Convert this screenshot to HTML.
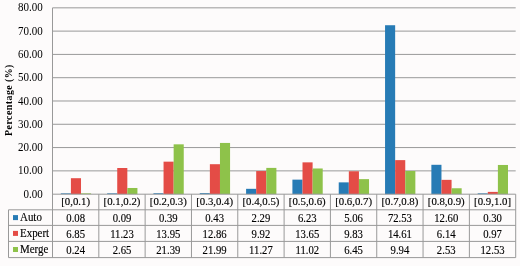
<!DOCTYPE html>
<html><head><meta charset="utf-8"><style>
html,body{margin:0;padding:0;background:#fdfbfb;width:520px;height:266px;overflow:hidden;}
svg{display:block;will-change:transform;}
</style></head><body>
<svg width="520" height="266" viewBox="0 0 520 266">

<line x1="52.5" y1="170.86" x2="515.7" y2="170.86" stroke="#999999" stroke-width="1.0"/>
<line x1="52.5" y1="147.57" x2="515.7" y2="147.57" stroke="#999999" stroke-width="1.0"/>
<line x1="52.5" y1="124.28" x2="515.7" y2="124.28" stroke="#999999" stroke-width="1.0"/>
<line x1="52.5" y1="100.99" x2="515.7" y2="100.99" stroke="#999999" stroke-width="1.0"/>
<line x1="52.5" y1="77.70" x2="515.7" y2="77.70" stroke="#999999" stroke-width="1.0"/>
<line x1="52.5" y1="54.41" x2="515.7" y2="54.41" stroke="#999999" stroke-width="1.0"/>
<line x1="52.5" y1="31.12" x2="515.7" y2="31.12" stroke="#999999" stroke-width="1.0"/>
<line x1="52.5" y1="7.83" x2="515.7" y2="7.83" stroke="#999999" stroke-width="1.0"/>
<rect x="60.81" y="193.35" width="10.10" height="0.80" fill="#277bb5"/>
<rect x="70.91" y="178.20" width="10.10" height="15.95" fill="#e44c46"/>
<rect x="81.01" y="193.35" width="10.10" height="0.80" fill="#8ec24a"/>
<rect x="107.13" y="193.35" width="10.10" height="0.80" fill="#277bb5"/>
<rect x="117.23" y="168.00" width="10.10" height="26.15" fill="#e44c46"/>
<rect x="127.33" y="187.98" width="10.10" height="6.17" fill="#8ec24a"/>
<rect x="153.45" y="193.24" width="10.10" height="0.91" fill="#277bb5"/>
<rect x="163.55" y="161.66" width="10.10" height="32.49" fill="#e44c46"/>
<rect x="173.65" y="144.33" width="10.10" height="49.82" fill="#8ec24a"/>
<rect x="199.77" y="193.15" width="10.10" height="1.00" fill="#277bb5"/>
<rect x="209.87" y="164.20" width="10.10" height="29.95" fill="#e44c46"/>
<rect x="219.97" y="142.94" width="10.10" height="51.21" fill="#8ec24a"/>
<rect x="246.09" y="188.82" width="10.10" height="5.33" fill="#277bb5"/>
<rect x="256.19" y="171.05" width="10.10" height="23.10" fill="#e44c46"/>
<rect x="266.29" y="167.90" width="10.10" height="26.25" fill="#8ec24a"/>
<rect x="292.41" y="179.64" width="10.10" height="14.51" fill="#277bb5"/>
<rect x="302.51" y="162.36" width="10.10" height="31.79" fill="#e44c46"/>
<rect x="312.61" y="168.48" width="10.10" height="25.67" fill="#8ec24a"/>
<rect x="338.73" y="182.37" width="10.10" height="11.78" fill="#277bb5"/>
<rect x="348.83" y="171.26" width="10.10" height="22.89" fill="#e44c46"/>
<rect x="358.93" y="179.13" width="10.10" height="15.02" fill="#8ec24a"/>
<rect x="385.05" y="25.23" width="10.10" height="168.92" fill="#277bb5"/>
<rect x="395.15" y="160.12" width="10.10" height="34.03" fill="#e44c46"/>
<rect x="405.25" y="171.00" width="10.10" height="23.15" fill="#8ec24a"/>
<rect x="431.37" y="164.80" width="10.10" height="29.35" fill="#277bb5"/>
<rect x="441.47" y="179.85" width="10.10" height="14.30" fill="#e44c46"/>
<rect x="451.57" y="188.26" width="10.10" height="5.89" fill="#8ec24a"/>
<rect x="477.69" y="193.35" width="10.10" height="0.80" fill="#277bb5"/>
<rect x="487.79" y="191.89" width="10.10" height="2.26" fill="#e44c46"/>
<rect x="497.89" y="164.97" width="10.10" height="29.18" fill="#8ec24a"/>
<line x1="52.5" y1="194.2" x2="515.7" y2="194.2" stroke="#999999" stroke-width="1.0"/>
<line x1="8.5" y1="209.8" x2="515.7" y2="209.8" stroke="#999999" stroke-width="1.0"/>
<line x1="8.5" y1="225.4" x2="515.7" y2="225.4" stroke="#999999" stroke-width="1.0"/>
<line x1="8.5" y1="241.4" x2="515.7" y2="241.4" stroke="#999999" stroke-width="1.0"/>
<line x1="8.5" y1="257.6" x2="515.7" y2="257.6" stroke="#999999" stroke-width="1.0"/>
<line x1="52.5" y1="7.83" x2="52.5" y2="257.6" stroke="#999999" stroke-width="1.0"/>
<line x1="98.82" y1="194.2" x2="98.82" y2="257.6" stroke="#999999" stroke-width="1.0"/>
<line x1="145.14" y1="194.2" x2="145.14" y2="257.6" stroke="#999999" stroke-width="1.0"/>
<line x1="191.46" y1="194.2" x2="191.46" y2="257.6" stroke="#999999" stroke-width="1.0"/>
<line x1="237.78" y1="194.2" x2="237.78" y2="257.6" stroke="#999999" stroke-width="1.0"/>
<line x1="284.10" y1="194.2" x2="284.10" y2="257.6" stroke="#999999" stroke-width="1.0"/>
<line x1="330.42" y1="194.2" x2="330.42" y2="257.6" stroke="#999999" stroke-width="1.0"/>
<line x1="376.74" y1="194.2" x2="376.74" y2="257.6" stroke="#999999" stroke-width="1.0"/>
<line x1="423.06" y1="194.2" x2="423.06" y2="257.6" stroke="#999999" stroke-width="1.0"/>
<line x1="469.38" y1="194.2" x2="469.38" y2="257.6" stroke="#999999" stroke-width="1.0"/>
<line x1="515.70" y1="194.2" x2="515.70" y2="257.6" stroke="#999999" stroke-width="1.0"/>
<line x1="8.5" y1="209.8" x2="8.5" y2="257.6" stroke="#999999" stroke-width="1.0"/>
<text transform="translate(42.80,197.73) scale(0.86,1)" text-anchor="end" font-size="12.8" font-family="Liberation Serif, serif" fill="#000" >0.00</text>
<text transform="translate(42.80,174.44) scale(0.86,1)" text-anchor="end" font-size="12.8" font-family="Liberation Serif, serif" fill="#000" >10.00</text>
<text transform="translate(42.80,151.15) scale(0.86,1)" text-anchor="end" font-size="12.8" font-family="Liberation Serif, serif" fill="#000" >20.00</text>
<text transform="translate(42.80,127.86) scale(0.86,1)" text-anchor="end" font-size="12.8" font-family="Liberation Serif, serif" fill="#000" >30.00</text>
<text transform="translate(42.80,104.57) scale(0.86,1)" text-anchor="end" font-size="12.8" font-family="Liberation Serif, serif" fill="#000" >40.00</text>
<text transform="translate(42.80,81.28) scale(0.86,1)" text-anchor="end" font-size="12.8" font-family="Liberation Serif, serif" fill="#000" >50.00</text>
<text transform="translate(42.80,57.99) scale(0.86,1)" text-anchor="end" font-size="12.8" font-family="Liberation Serif, serif" fill="#000" >60.00</text>
<text transform="translate(42.80,34.70) scale(0.86,1)" text-anchor="end" font-size="12.8" font-family="Liberation Serif, serif" fill="#000" >70.00</text>
<text transform="translate(42.80,11.41) scale(0.86,1)" text-anchor="end" font-size="12.8" font-family="Liberation Serif, serif" fill="#000" >80.00</text>
<text transform="translate(75.66,205.35) scale(1.0,1)" text-anchor="middle" font-size="10.8" font-family="Liberation Serif, serif" fill="#000" stroke="#000" stroke-width="0.15" >[0,0.1)</text>
<text transform="translate(121.98,205.35) scale(1.0,1)" text-anchor="middle" font-size="10.8" font-family="Liberation Serif, serif" fill="#000" stroke="#000" stroke-width="0.15" >[0.1,0.2)</text>
<text transform="translate(168.30,205.35) scale(1.0,1)" text-anchor="middle" font-size="10.8" font-family="Liberation Serif, serif" fill="#000" stroke="#000" stroke-width="0.15" >[0.2,0.3)</text>
<text transform="translate(214.62,205.35) scale(1.0,1)" text-anchor="middle" font-size="10.8" font-family="Liberation Serif, serif" fill="#000" stroke="#000" stroke-width="0.15" >[0.3,0.4)</text>
<text transform="translate(260.94,205.35) scale(1.0,1)" text-anchor="middle" font-size="10.8" font-family="Liberation Serif, serif" fill="#000" stroke="#000" stroke-width="0.15" >[0.4,0.5)</text>
<text transform="translate(307.26,205.35) scale(1.0,1)" text-anchor="middle" font-size="10.8" font-family="Liberation Serif, serif" fill="#000" stroke="#000" stroke-width="0.15" >[0.5,0.6)</text>
<text transform="translate(353.58,205.35) scale(1.0,1)" text-anchor="middle" font-size="10.8" font-family="Liberation Serif, serif" fill="#000" stroke="#000" stroke-width="0.15" >[0.6,0.7)</text>
<text transform="translate(399.90,205.35) scale(1.0,1)" text-anchor="middle" font-size="10.8" font-family="Liberation Serif, serif" fill="#000" stroke="#000" stroke-width="0.15" >[0.7,0.8)</text>
<text transform="translate(446.22,205.35) scale(1.0,1)" text-anchor="middle" font-size="10.8" font-family="Liberation Serif, serif" fill="#000" stroke="#000" stroke-width="0.15" >[0.8,0.9)</text>
<text transform="translate(492.54,205.35) scale(1.0,1)" text-anchor="middle" font-size="10.8" font-family="Liberation Serif, serif" fill="#000" stroke="#000" stroke-width="0.15" >[0.9,1.0]</text>
<text transform="translate(75.66,221.91) scale(0.87,1)" text-anchor="middle" font-size="12.3" font-family="Liberation Serif, serif" fill="#000" stroke="#000" stroke-width="0.15" >0.08</text>
<text transform="translate(121.98,221.91) scale(0.87,1)" text-anchor="middle" font-size="12.3" font-family="Liberation Serif, serif" fill="#000" stroke="#000" stroke-width="0.15" >0.09</text>
<text transform="translate(168.30,221.91) scale(0.87,1)" text-anchor="middle" font-size="12.3" font-family="Liberation Serif, serif" fill="#000" stroke="#000" stroke-width="0.15" >0.39</text>
<text transform="translate(214.62,221.91) scale(0.87,1)" text-anchor="middle" font-size="12.3" font-family="Liberation Serif, serif" fill="#000" stroke="#000" stroke-width="0.15" >0.43</text>
<text transform="translate(260.94,221.91) scale(0.87,1)" text-anchor="middle" font-size="12.3" font-family="Liberation Serif, serif" fill="#000" stroke="#000" stroke-width="0.15" >2.29</text>
<text transform="translate(307.26,221.91) scale(0.87,1)" text-anchor="middle" font-size="12.3" font-family="Liberation Serif, serif" fill="#000" stroke="#000" stroke-width="0.15" >6.23</text>
<text transform="translate(353.58,221.91) scale(0.87,1)" text-anchor="middle" font-size="12.3" font-family="Liberation Serif, serif" fill="#000" stroke="#000" stroke-width="0.15" >5.06</text>
<text transform="translate(399.90,221.91) scale(0.87,1)" text-anchor="middle" font-size="12.3" font-family="Liberation Serif, serif" fill="#000" stroke="#000" stroke-width="0.15" >72.53</text>
<text transform="translate(446.22,221.91) scale(0.87,1)" text-anchor="middle" font-size="12.3" font-family="Liberation Serif, serif" fill="#000" stroke="#000" stroke-width="0.15" >12.60</text>
<text transform="translate(492.54,221.91) scale(0.87,1)" text-anchor="middle" font-size="12.3" font-family="Liberation Serif, serif" fill="#000" stroke="#000" stroke-width="0.15" >0.30</text>
<text transform="translate(75.66,237.71) scale(0.87,1)" text-anchor="middle" font-size="12.3" font-family="Liberation Serif, serif" fill="#000" stroke="#000" stroke-width="0.15" >6.85</text>
<text transform="translate(121.98,237.71) scale(0.87,1)" text-anchor="middle" font-size="12.3" font-family="Liberation Serif, serif" fill="#000" stroke="#000" stroke-width="0.15" >11.23</text>
<text transform="translate(168.30,237.71) scale(0.87,1)" text-anchor="middle" font-size="12.3" font-family="Liberation Serif, serif" fill="#000" stroke="#000" stroke-width="0.15" >13.95</text>
<text transform="translate(214.62,237.71) scale(0.87,1)" text-anchor="middle" font-size="12.3" font-family="Liberation Serif, serif" fill="#000" stroke="#000" stroke-width="0.15" >12.86</text>
<text transform="translate(260.94,237.71) scale(0.87,1)" text-anchor="middle" font-size="12.3" font-family="Liberation Serif, serif" fill="#000" stroke="#000" stroke-width="0.15" >9.92</text>
<text transform="translate(307.26,237.71) scale(0.87,1)" text-anchor="middle" font-size="12.3" font-family="Liberation Serif, serif" fill="#000" stroke="#000" stroke-width="0.15" >13.65</text>
<text transform="translate(353.58,237.71) scale(0.87,1)" text-anchor="middle" font-size="12.3" font-family="Liberation Serif, serif" fill="#000" stroke="#000" stroke-width="0.15" >9.83</text>
<text transform="translate(399.90,237.71) scale(0.87,1)" text-anchor="middle" font-size="12.3" font-family="Liberation Serif, serif" fill="#000" stroke="#000" stroke-width="0.15" >14.61</text>
<text transform="translate(446.22,237.71) scale(0.87,1)" text-anchor="middle" font-size="12.3" font-family="Liberation Serif, serif" fill="#000" stroke="#000" stroke-width="0.15" >6.14</text>
<text transform="translate(492.54,237.71) scale(0.87,1)" text-anchor="middle" font-size="12.3" font-family="Liberation Serif, serif" fill="#000" stroke="#000" stroke-width="0.15" >0.97</text>
<text transform="translate(75.66,253.81) scale(0.87,1)" text-anchor="middle" font-size="12.3" font-family="Liberation Serif, serif" fill="#000" stroke="#000" stroke-width="0.15" >0.24</text>
<text transform="translate(121.98,253.81) scale(0.87,1)" text-anchor="middle" font-size="12.3" font-family="Liberation Serif, serif" fill="#000" stroke="#000" stroke-width="0.15" >2.65</text>
<text transform="translate(168.30,253.81) scale(0.87,1)" text-anchor="middle" font-size="12.3" font-family="Liberation Serif, serif" fill="#000" stroke="#000" stroke-width="0.15" >21.39</text>
<text transform="translate(214.62,253.81) scale(0.87,1)" text-anchor="middle" font-size="12.3" font-family="Liberation Serif, serif" fill="#000" stroke="#000" stroke-width="0.15" >21.99</text>
<text transform="translate(260.94,253.81) scale(0.87,1)" text-anchor="middle" font-size="12.3" font-family="Liberation Serif, serif" fill="#000" stroke="#000" stroke-width="0.15" >11.27</text>
<text transform="translate(307.26,253.81) scale(0.87,1)" text-anchor="middle" font-size="12.3" font-family="Liberation Serif, serif" fill="#000" stroke="#000" stroke-width="0.15" >11.02</text>
<text transform="translate(353.58,253.81) scale(0.87,1)" text-anchor="middle" font-size="12.3" font-family="Liberation Serif, serif" fill="#000" stroke="#000" stroke-width="0.15" >6.45</text>
<text transform="translate(399.90,253.81) scale(0.87,1)" text-anchor="middle" font-size="12.3" font-family="Liberation Serif, serif" fill="#000" stroke="#000" stroke-width="0.15" >9.94</text>
<text transform="translate(446.22,253.81) scale(0.87,1)" text-anchor="middle" font-size="12.3" font-family="Liberation Serif, serif" fill="#000" stroke="#000" stroke-width="0.15" >2.53</text>
<text transform="translate(492.54,253.81) scale(0.87,1)" text-anchor="middle" font-size="12.3" font-family="Liberation Serif, serif" fill="#000" stroke="#000" stroke-width="0.15" >12.53</text>
<rect x="13" y="215.10" width="5" height="5" fill="#277bb5"/>
<text transform="translate(20.00,221.17) scale(0.89,1)" text-anchor="start" font-size="12.3" font-family="Liberation Serif, serif" fill="#000" stroke="#000" stroke-width="0.15" >Auto</text>
<rect x="13" y="230.90" width="5" height="5" fill="#e44c46"/>
<text transform="translate(20.00,236.97) scale(0.89,1)" text-anchor="start" font-size="12.3" font-family="Liberation Serif, serif" fill="#000" stroke="#000" stroke-width="0.15" >Expert</text>
<rect x="13" y="247.00" width="5" height="5" fill="#8ec24a"/>
<text transform="translate(20.00,253.07) scale(0.89,1)" text-anchor="start" font-size="12.3" font-family="Liberation Serif, serif" fill="#000" stroke="#000" stroke-width="0.15" >Merge</text>
<text transform="translate(12.0,100.0) rotate(-90) scale(0.9,1)" text-anchor="middle" font-size="11" font-weight="bold" font-family="Liberation Serif, serif" fill="#000" letter-spacing="0.5">Percentage (%)</text>
</svg>
</body></html>
